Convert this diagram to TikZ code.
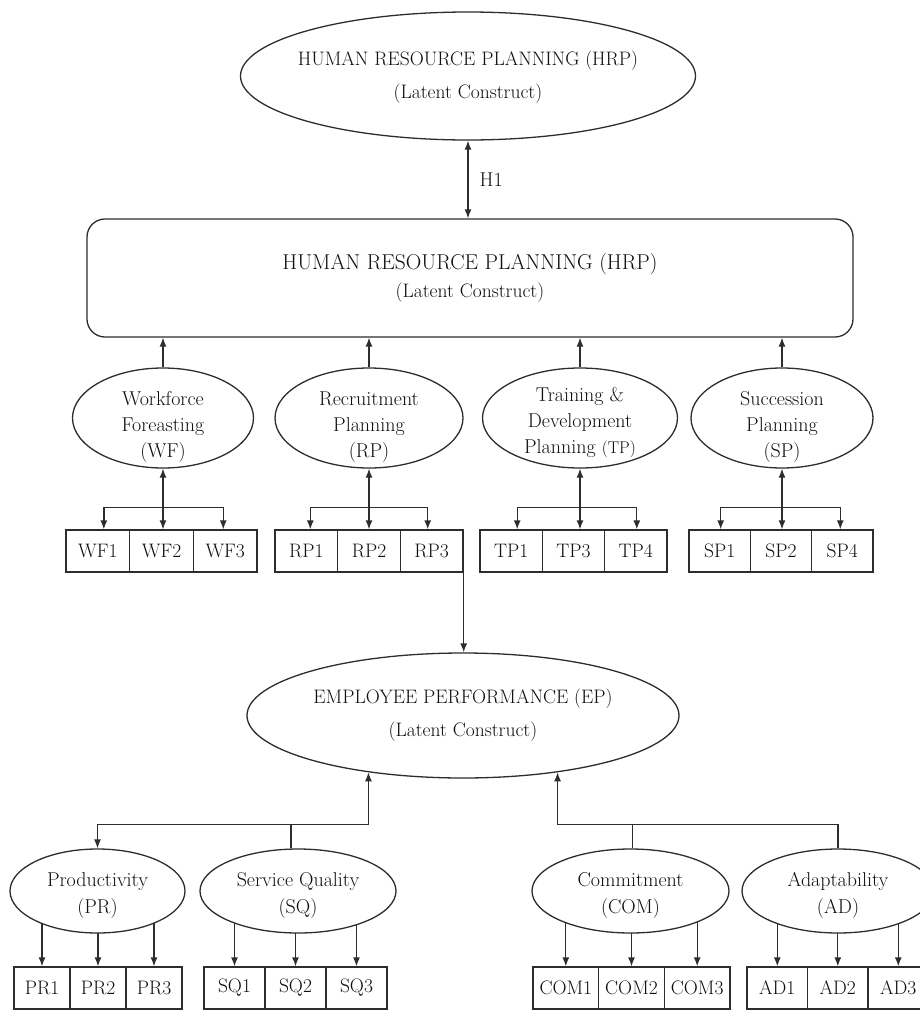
\documentclass[tikz,border=0pt]{standalone}
\usetikzlibrary{shapes.geometric,arrows.meta,calc}
\definecolor{linec}{RGB}{45,45,45}
\definecolor{textc}{RGB}{15,15,15}
\pgfdeclarelayer{background}
\pgfsetlayers{background,main}
\begin{document}
\begin{tikzpicture}[x=1pt,y=-1pt,
  ln/.style={draw=linec, line width=1.3pt},
  tip/.style={-{Latex[length=9pt,width=7pt]}},
  tips/.style={{Latex[length=9pt,width=7pt]}-{Latex[length=9pt,width=7pt]}},
  ell/.style={ellipse, draw=linec, line width=1.3pt, fill=white, inner sep=0pt},
  bigtxt/.style={align=center, text=textc, inner sep=0pt, font=\fontsize{19.5}{33}\selectfont},
  etxt/.style={align=center, text=textc, inner sep=0pt, font=\fontsize{20}{26}\selectfont},
  btxt/.style={align=center, text=textc, inner sep=0pt, font=\fontsize{20}{27}\selectfont},
  itm/.style={rectangle, draw=linec, line width=1.3pt, fill=white, minimum height=42pt, inner sep=0pt, text=textc, font=\fontsize{19.5}{22}\selectfont}
]
\useasboundingbox (0,0) rectangle (920,1012);

% top latent construct
\node[ell, minimum width=455pt, minimum height=128pt,
  label={[bigtxt, yshift=-1.5pt]center:HUMAN RESOURCE PLANNING (HRP)\\(Latent Construct)}] (TOP) at (468,76) {};

% HRP box
\node[rectangle, rounded corners=18pt, draw=linec, line width=1.3pt,
  minimum width=766pt, minimum height=118pt, align=center, text=textc,
  font=\fontsize{21.5}{28}\selectfont] (HRP) at (470,278)
  {HUMAN RESOURCE PLANNING (HRP)\\{\fontsize{19.5}{28}\selectfont (Latent Construct)}};

\draw[ln,tips] (TOP.south) -- (TOP.south |- HRP.north)
  node[midway, right=11pt, inner sep=0pt, text=textc, font=\fontsize{20}{24}\selectfont] (h1) {H1};

% dimensions of HRP
\node[ell, minimum width=181pt, minimum height=100pt,
  label={[etxt, yshift=-9pt]center:Workforce\\Foreasting\\(WF)}] (WF) at (163,418) {};
\node[ell, minimum width=188pt, minimum height=100pt,
  label={[etxt, yshift=-9pt]center:Recruitment\\Planning\\(RP)}] (RP) at (369,418) {};
\node[ell, minimum width=195pt, minimum height=100pt,
  label={[etxt, yshift=-5pt]center:Training \&\\Development\\Planning {\fontsize{17}{26}\selectfont(TP)}}] (TP) at (580,418) {};
\node[ell, minimum width=182pt, minimum height=100pt,
  label={[etxt, yshift=-9pt]center:Succession\\Planning\\(SP)}] (SP) at (782,418) {};

\foreach \e in {WF,RP,TP,SP} \draw[ln,tip] (\e.north) -- (\e.north |- HRP.south);

% indicator boxes, upper row
\node[itm, minimum width=63.7pt] (WF1) at (97.85,551) {WF1};
\node[itm, minimum width=63.7pt] (WF2) at (161.55,551) {WF2};
\node[itm, minimum width=63.7pt] (WF3) at (225.25,551) {WF3};
\node[itm, minimum width=62.7pt] (RP1) at (306.3,551) {RP1};
\node[itm, minimum width=62.7pt] (RP2) at (369,551) {RP2};
\node[itm, minimum width=62.7pt] (RP3) at (431.7,551) {RP3};
\node[itm, minimum width=62.3pt] (TP1) at (511.2,551) {TP1};
\node[itm, minimum width=62.3pt] (TP3) at (573.5,551) {TP3};
\node[itm, minimum width=62.3pt] (TP4) at (635.8,551) {TP4};
\node[itm, minimum width=61.3pt] (SP1) at (719.7,551) {SP1};
\node[itm, minimum width=61.3pt] (SP2) at (781,551) {SP2};
\node[itm, minimum width=61.3pt] (SP4) at (842.3,551) {SP4};

\draw[ln,tips] (WF.south) -- (WF.south |- WF2.north);
\draw[ln,tips] ([xshift=6pt]WF1.north) -- ++(0,-22) -| ([xshift=-2pt]WF3.north);
\draw[ln,tips] (RP.south) -- (RP.south |- RP2.north);
\draw[ln,tips] ([xshift=4pt]RP1.north) -- ++(0,-22) -| ([xshift=-4pt]RP3.north);
\draw[ln,tips] (TP.south) -- (TP.south |- TP3.north);
\draw[ln,tips] ([xshift=6pt]TP1.north) -- ++(0,-22) -| ([xshift=1pt]TP4.north);
\draw[ln,tips] (SP.south) -- (SP.south |- SP2.north);
\draw[ln,tips] ([xshift=1pt]SP1.north) -- ++(0,-22) -| ([xshift=-2pt]SP4.north);

% employee performance
\node[ell, minimum width=432pt, minimum height=125pt,
  label={[bigtxt]center:EMPLOYEE PERFORMANCE (EP)\\(Latent Construct)}] (EP) at (463,715.5) {};

\draw[ln,tip] (RP3.south east) -- (RP3.south east |- EP.north);

% dimensions of EP
\node[ell, minimum width=175pt, minimum height=84pt,
  label={[btxt, yshift=-4.5pt]center:Productivity\\(PR)}] (PR) at (97.5,891) {};
\node[ell, minimum width=196pt, minimum height=84pt,
  label={[btxt, yshift=-4.5pt]center:Service Quality\\(SQ)}] (SQ) at (298,891) {};
\node[ell, minimum width=197pt, minimum height=84pt,
  label={[btxt, yshift=-4.5pt]center:Commitment\\(COM)}] (COM) at (630.5,891) {};
\node[ell, minimum width=192pt, minimum height=84pt,
  label={[btxt, yshift=-4.5pt]center:Adaptability\\(AD)}] (AD) at (838,891) {};

\coordinate (bl) at ($(SQ.north)+(-7,-24)$);
\coordinate (br) at ($(COM.north)+(2,-24)$);
\draw[ln] (SQ.north -| bl) -- (bl);
\draw[ln,tip] (bl) -| (PR.north);
\draw[ln,tip] (bl) -| (EP.211.23);
\draw[ln] (COM.north -| br) -- (br);
\draw[ln] (AD.north) |- (br);
\draw[ln,tip] (br) -| (EP.329.74);

% indicator boxes, lower row
\node[itm, minimum width=56pt] (PR1) at (42,988) {PR1};
\node[itm, minimum width=56pt] (PR2) at (98,988) {PR2};
\node[itm, minimum width=56pt] (PR3) at (154,988) {PR3};
\node[itm, minimum width=61pt] (SQ1) at (234.5,988) {SQ1};
\node[itm, minimum width=61pt] (SQ2) at (295.5,988) {SQ2};
\node[itm, minimum width=61pt] (SQ3) at (356.5,988) {SQ3};
\node[itm, minimum width=65.7pt] (COM1) at (565.8,988) {COM1};
\node[itm, minimum width=65.7pt] (COM2) at (631.5,988) {COM2};
\node[itm, minimum width=65.7pt] (COM3) at (697.2,988) {COM3};
\node[itm, minimum width=60.5pt] (AD1) at (777.3,988) {AD1};
\node[itm, minimum width=60.5pt] (AD2) at (837.8,988) {AD2};
\node[itm, minimum width=60.5pt] (AD3) at (898.3,988) {AD3};

\begin{pgfonlayer}{background}
\foreach \e/\b in {PR/PR1,PR/PR2,PR/PR3,SQ/SQ1,SQ/SQ2,SQ/SQ3,COM/COM1,COM/COM2,COM/COM3,AD/AD1,AD/AD2,AD/AD3}
  \draw[ln,tip] (\b.north |- \e.center) -- (\b.north);
\end{pgfonlayer}
\end{tikzpicture}
\end{document}
